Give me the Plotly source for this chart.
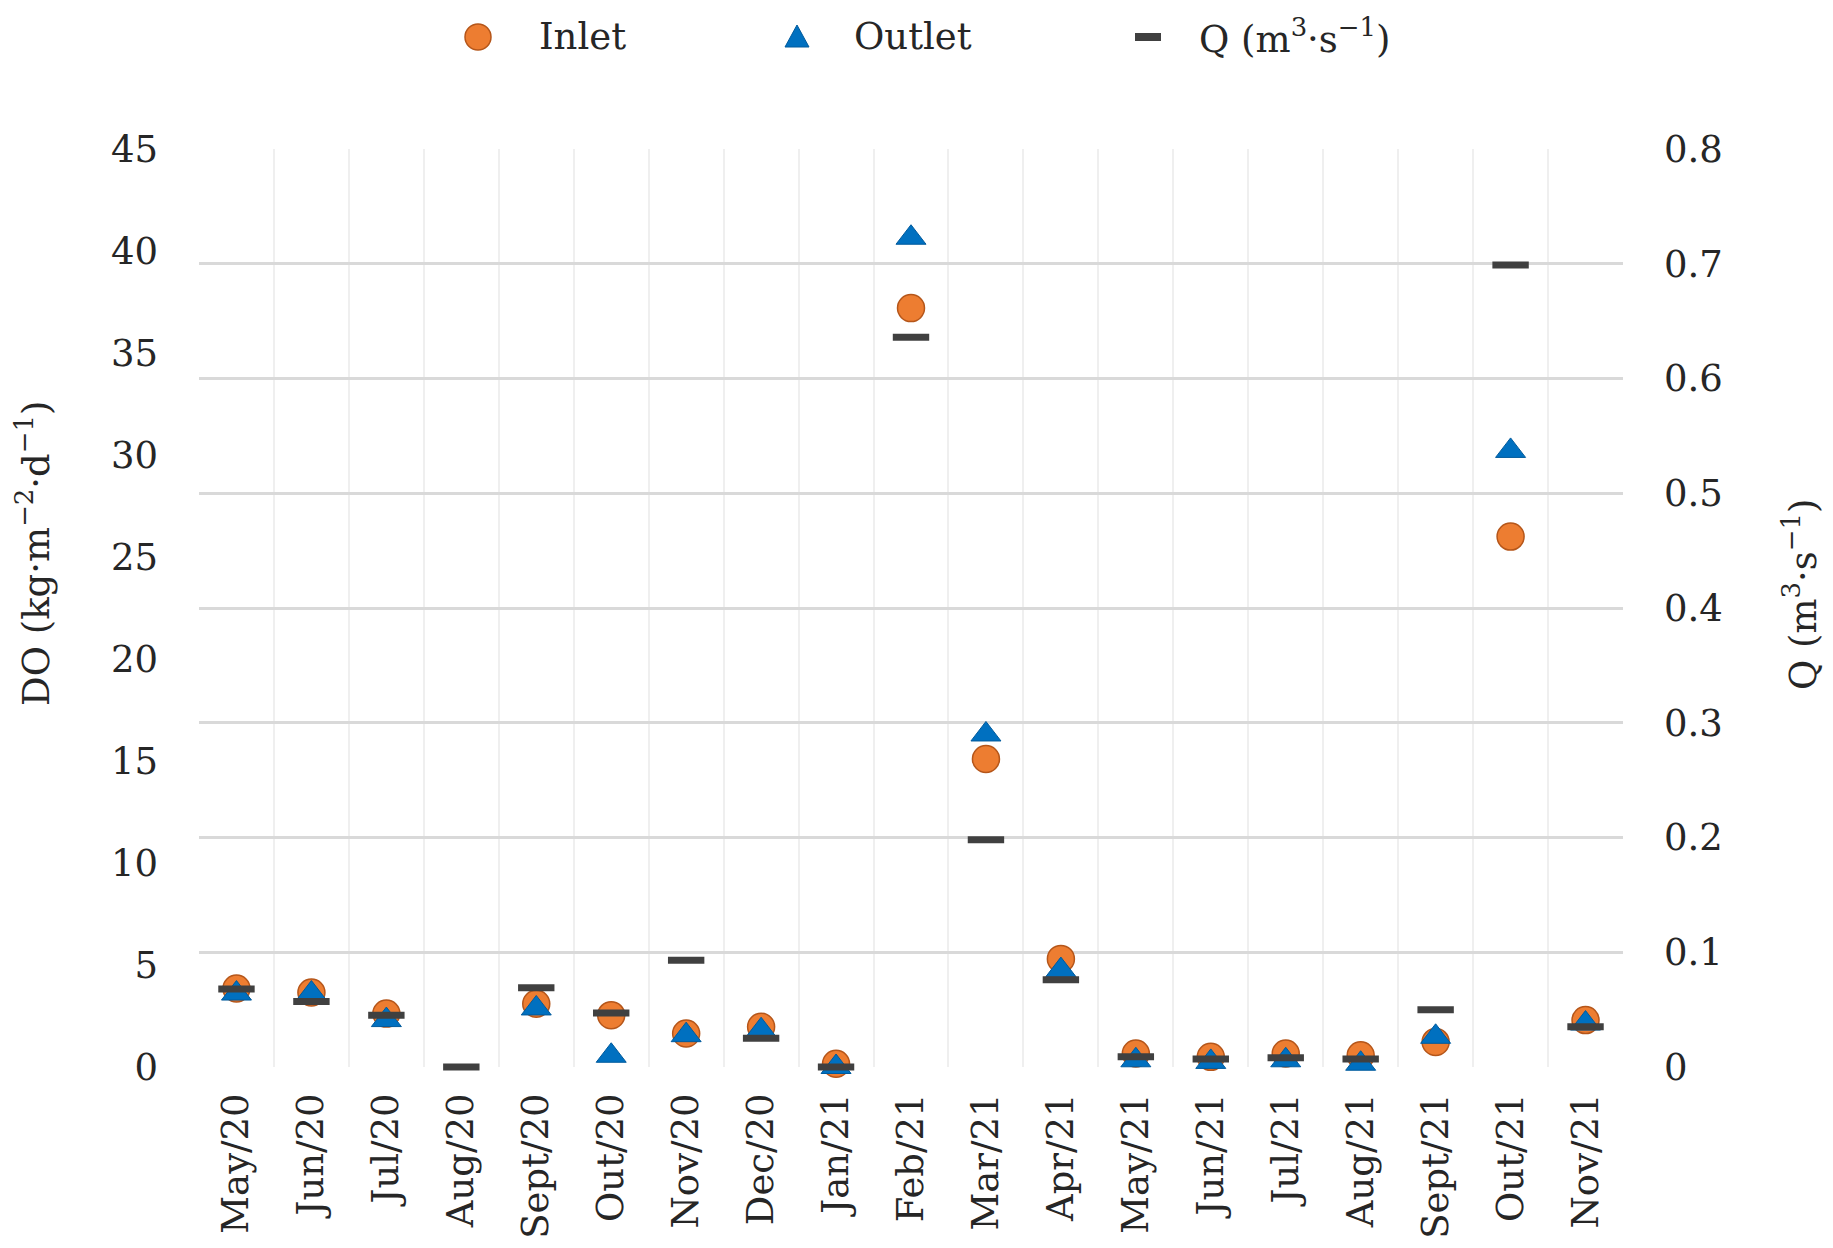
import plotly.graph_objects as go

months = ["May/20", "Jun/20", "Jul/20", "Aug/20", "Sept/20", "Out/20", "Nov/20", "Dec/20",
          "Jan/21", "Feb/21", "Mar/21", "Apr/21", "May/21", "Jun/21", "Jul/21", "Aug/21",
          "Sept/21", "Out/21", "Nov/21"]
inlet = [3.85, 3.65, 2.62, None, 3.1, 2.54, 1.64, 1.97, 0.16, 37.2, 15.1, 5.3, 0.66, 0.5, 0.66, 0.57, 1.23, 26.0, 2.3]
outlet = [3.6, 3.6, 2.3, None, 2.87, 0.55, 1.56, 1.8, 0.0, 40.65, 16.3, 4.75, 0.33, 0.25, 0.33, 0.16, 1.48, 30.2, 2.13]
q_flow = [0.068, 0.057, 0.045, 0.0, 0.069, 0.047, 0.093, 0.025, 0.0, 0.636, 0.198, 0.076, 0.009, 0.007, 0.008, 0.007, 0.050, 0.699, 0.035]
series_names = ["Inlet", "Outlet", "Q (m<sup>3</sup>·s<sup>−1</sup>)"]

FONT = "DejaVu Serif"
TXT = "#262626"
FS = 37
L, R, T, B = 191, 218, 141, 189
W, H = 1833, 1248
PW, PH = W - L - R, H - T - B
ORANGE, ORANGE_EDGE = "#ED7D31", "#B5561A"
BLUE, BLUE_EDGE = "#0070C0", "#005A9C"
DARK = "#404040"


def px(xp):
    return (xp - L) / PW


def py(yp):
    return (H - B - yp) / PH


fig = go.Figure()
fig.add_trace(go.Scatter(
    x=months, y=inlet, mode="markers", name=series_names[0], cliponaxis=False,
    marker=dict(symbol="circle", size=27, color=ORANGE, line=dict(color=ORANGE_EDGE, width=1.5)),
))
fig.add_trace(go.Scatter(
    x=months, y=outlet, mode="markers", name=series_names[1], cliponaxis=False,
    marker=dict(symbol="triangle-up", size=26, color=BLUE, line=dict(color=BLUE_EDGE, width=1)),
))
fig.add_trace(go.Scatter(
    x=months, y=q_flow, mode="markers", name=series_names[2], yaxis="y2",
    cliponaxis=False,
    marker=dict(symbol="line-ew", size=26, color=DARK, line=dict(color=DARK, width=7)),
))

# legend drawn as shapes + text (larger symbols than plotly's legend allows)
leg_y = 29
leg_marker_x = [470, 789, 1140]
leg_text_x = [529, 844, 1189]
shapes = [
    dict(type="circle", xref="paper", yref="paper", xsizemode="pixel", ysizemode="pixel",
         xanchor=px(leg_marker_x[0]), yanchor=py(leg_y), x0=-13, x1=13, y0=-13, y1=13,
         fillcolor=ORANGE, line=dict(color=ORANGE_EDGE, width=1.5)),
    dict(type="path", xref="paper", yref="paper", xsizemode="pixel", ysizemode="pixel",
         xanchor=px(leg_marker_x[1]), yanchor=py(leg_y), path="M -12,-10 L 12,-10 L 0,12 Z",
         fillcolor=BLUE, line=dict(color=BLUE_EDGE, width=1)),
    dict(type="rect", xref="paper", yref="paper", xsizemode="pixel", ysizemode="pixel",
         xanchor=px(leg_marker_x[2]), yanchor=py(leg_y), x0=-13, x1=13, y0=-4, y1=4,
         fillcolor=DARK, line=dict(width=0)),
]
annotations = [
    dict(text=n, showarrow=False, xref="paper", yref="paper", x=px(tx), y=py(leg_y),
         xanchor="left", yanchor="middle", font=dict(size=FS, color=TXT))
    for n, tx in zip(series_names, leg_text_x)
]
annotations += [
    dict(text="DO (kg·m<sup>−2</sup>·d<sup>−1</sup>)", textangle=-90, showarrow=False,
         xref="paper", yref="paper", x=px(25), y=py(546),
         xanchor="center", yanchor="middle", font=dict(size=FS, color=TXT)),
    dict(text="Q (m<sup>3</sup>·s<sup>−1</sup>)", textangle=-90, showarrow=False,
         xref="paper", yref="paper", x=px(1792), y=py(587),
         xanchor="center", yanchor="middle", font=dict(size=FS, color=TXT)),
]

fig.update_layout(
    width=W, height=H,
    paper_bgcolor="white", plot_bgcolor="white",
    margin=dict(l=L, r=R, t=T, b=B, autoexpand=False),
    font=dict(family=FONT, size=FS, color=TXT),
    showlegend=False,
    xaxis=dict(
        type="category", categoryorder="array", categoryarray=months,
        tickson="boundaries", tickangle=-90, showgrid=True, gridcolor="#EFEFEF", gridwidth=1.5,
        ticks="", showline=False, zeroline=False, tickfont=dict(size=FS, color=TXT),
        range=[-0.5, len(months) - 0.5], ticklabelstandoff=18,
    ),
    yaxis=dict(
        range=[0, 45], dtick=5, tick0=0, showgrid=False, zeroline=False, showline=False,
        ticks="", tickfont=dict(size=FS, color=TXT), ticklabelstandoff=40,
    ),
    yaxis2=dict(
        range=[0, 0.8], dtick=0.1, tick0=0, overlaying="y", side="right",
        showgrid=True, gridcolor="#D9D9D9", gridwidth=2.5, zeroline=False, showline=False,
        ticks="", tickfont=dict(size=FS, color=TXT), ticklabelstandoff=40,
    ),
    shapes=shapes,
    annotations=annotations,
)

fig.write_html("out.html")
